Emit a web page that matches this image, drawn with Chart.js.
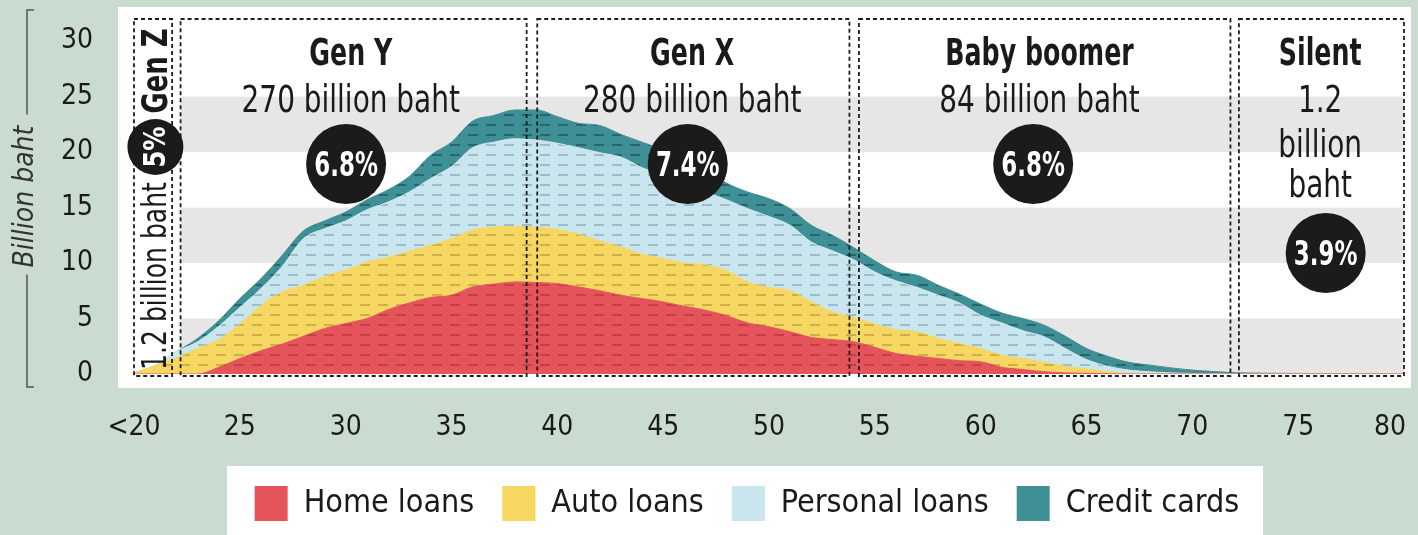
<!DOCTYPE html>
<html>
<head>
<meta charset="utf-8">
<script src="https://cdn.jsdelivr.net/npm/chart.js@4.4.1/dist/chart.umd.min.js"></script>
<style>
html,body{margin:0;padding:0;background:#c9dccf;}
#wrap{position:relative;width:1418px;height:535px;overflow:hidden;}
.panel{position:absolute;background:#ffffff;}
#plotPanel{left:118px;top:7px;width:1293px;height:381px;}
#legendPanel{left:227px;top:466px;width:1036px;height:80px;}
canvas{position:absolute;left:0;top:0;}
</style>
</head>
<body>
<div id="wrap">
  <div class="panel" id="plotPanel"></div>
  <div class="panel" id="legendPanel"></div>
  <canvas id="c" width="1418" height="535"></canvas>
</div>
<script>
// ---------- data ----------
const ages = [20,21,22,23,24,25,26,27,28,29,30,31,32,33,34,35,36,37,38,39,40,
              41,42,43,44,45,46,47,48,49,50,51,52,53,54,55,56,57,58,59,60,
              61,62,63,64,65,66,67,68,69,70,71,72,73,74,75,76,77,78,79,80];

const homeLoans = [0,0,0,0,0.6,1.4,2.1,2.7,3.4,4.1,4.55,
                   5.0,5.8,6.4,6.9,7.1,7.85,8.1,8.3,8.25,8.15,
                   7.85,7.5,7.1,6.8,6.5,6.1,5.75,5.25,4.6,4.26,
                   3.8,3.3,3.1,2.9,2.4,1.85,1.6,1.4,1.2,1.1,
                   0.6,0.4,0.2,0.1,0.05,0.02,0,0,0,0,
                   0,0,0,0,0,0,0,0,0,0];

const autoLoans = [0.1,0.75,1.45,2.3,2.5,3.1,4.1,4.7,4.6,4.7,4.8,
                   5.1,4.7,4.65,4.7,5.1,5.12,5.15,5.0,5.0,4.9,
                   4.75,4.5,4.35,4.0,3.9,3.9,4.1,4.05,3.7,3.54,
                   3.7,3.2,2.5,2.2,2.1,2.15,2.2,1.8,1.55,1.2,
                   1.1,1.0,0.85,0.6,0.4,0.18,0.05,0,0,0,
                   0,0,0,0,0,0,0,0,0,0];

const personalLoans = [0,0,0.55,0.6,1.2,1.5,1.5,2.3,4.2,4.3,4.45,
                       4.7,5.0,5.35,6.0,6.5,7.43,7.65,7.9,7.85,7.75,
                       7.8,7.95,8.1,7.8,7.45,7.1,6.55,6.4,6.6,6.4,
                       5.9,5.4,5.5,5.2,4.7,4.4,4.0,3.9,3.65,3.0,
                       2.9,2.5,2.3,1.6,0.85,0.5,0.3,0.2,0.1,0.05,
                       0.02,0,0,0,0,0,0,0,0,0];

const creditCards = [0,0,0,0.3,0.5,0.8,0.9,1.0,0.7,0.7,0.8,
                     0.9,1.1,1.4,2.1,2.2,2.4,2.4,2.6,2.7,2.4,
                     2.2,2.45,2.05,2.3,2.35,2.2,2.0,1.5,1.5,1.6,
                     1.5,1.5,1.4,1.1,1.0,0.8,1.1,0.9,0.8,1.0,
                     0.9,1.1,1.05,1.1,1.0,0.9,0.7,0.6,0.45,0.3,
                     0.2,0.12,0.08,0.06,0.05,0.04,0.03,0.02,0.01,0];

const seriesNames = ['Home loans','Auto loans','Personal loans','Credit cards'];
const xTickValues = [20,25,30,35,40,45,50,55,60,65,70,75,80];
const yTickValues = [0,5,10,15,20,25,30];
const bandRanges = [[0,5],[10,15],[20,25]];

const generations = ['Gen Z','Gen Y','Gen X','Baby boomer','Silent'];
const genStart = [20, 22.2, 39.05, 54.25, 72.2];
const genEnd = [21.8, 38.55, 53.8, 71.8, 80];
const genAmounts = ['1.2 billion baht','270 billion baht','280 billion baht','84 billion baht','1.2 billion baht'];
const genShares = ['5%','6.8%','7.4%','6.8%','3.9%'];

// ---------- styles ----------
const FONT = "'DejaVu Sans Condensed', 'DejaVu Sans', sans-serif";
const seriesColors = ['#e5545a','#f5d762','#c9e6ef','#3f9096'];
const dashColors = ['#c63f47','#cdb049','#9ebdcb','#25676c'];
const genLabelAge = [21.01, 30.24, 46.37, 62.78, 76.04];
const genCircleAge = [21.01, 30.02, 46.16, 62.48, 76.3];

function stripePattern(base, dash) {
  const c = document.createElement('canvas');
  c.width = 18; c.height = 10;
  const g = c.getContext('2d');
  g.fillStyle = base; g.fillRect(0, 0, 18, 10);
  g.fillStyle = dash; g.fillRect(0, 4, 10, 2);
  return g.createPattern(c, 'repeat');
}

const seriesValues = [homeLoans, autoLoans, personalLoans, creditCards];
const datasets = seriesNames.map((name, i) => ({
  label: name,
  data: ages.map((a, j) => ({x: a, y: seriesValues[i][j]})),
  backgroundColor: stripePattern(seriesColors[i], dashColors[i]),
  borderColor: seriesColors[i],
  borderWidth: 1,
  pointRadius: 0,
  pointHoverRadius: 0,
  fill: i === 0 ? 'origin' : '-1',
  cubicInterpolationMode: 'monotone'
}));

function circle(ctx, cx, cy, r) {
  ctx.beginPath();
  ctx.arc(cx, cy, r, 0, Math.PI * 2);
  ctx.fillStyle = '#1b1b1b';
  ctx.fill();
}
// narrow text: real text drawn with a horizontal squeeze
function narrowText(ctx, txt, x, y, font, color, sx, baseline) {
  ctx.save();
  ctx.translate(x, y);
  ctx.scale(sx, 1);
  ctx.font = font;
  ctx.fillStyle = color;
  ctx.textAlign = 'center';
  ctx.textBaseline = baseline || 'alphabetic';
  ctx.fillText(txt, 0, 0);
  ctx.restore();
}

const decor = {
  id: 'decor',
  afterLayout(chart) {
    if (chart.legend) { chart.legend.left += 45; chart.legend.right += 45; }
  },
  beforeDraw(chart) {
    const items = chart.scales.x.getLabelItems();
    const last = items[items.length - 1];
    if (last && !last._shifted) { last.options.translation[0] -= 14; last._shifted = true; }
  },
  beforeDatasetsDraw(chart) {
    const {ctx, chartArea, scales: {x, y}} = chart;
    ctx.save();
    ctx.fillStyle = '#e6e6e7';
    const x0 = x.getPixelForValue(genStart[1]);
    const x1 = chartArea.right;
    for (const [lo, hi] of bandRanges) {
      const t = y.getPixelForValue(hi), b = y.getPixelForValue(lo);
      ctx.fillRect(x0, t, x1 - x0, b - t);
    }
    ctx.restore();
  },
  afterDatasetsDraw(chart) {
    const {ctx, chartArea, scales: {x, y}} = chart;
    const top = chartArea.top;
    ctx.save();
    ctx.strokeStyle = '#1d1d1d';
    ctx.lineWidth = 1.8;
    ctx.setLineDash([4, 3]);
    const bottom = y.getPixelForValue(0) + 2;
    generations.forEach((g, i) => {
      const a = x.getPixelForValue(genStart[i]);
      const b = x.getPixelForValue(genEnd[i]);
      ctx.strokeRect(a, top, b - a, bottom - top);
    });
    ctx.setLineDash([]);
    const INK = '#1a1a1a';
    for (let i = 1; i <= 3; i++) {
      const lx = x.getPixelForValue(genLabelAge[i]);
      const cx = x.getPixelForValue(genCircleAge[i]);
      narrowText(ctx, generations[i], lx, top + 46, 'bold 37px ' + FONT, INK, 0.76);
      narrowText(ctx, genAmounts[i], lx, top + 93, '37px ' + FONT, INK, 0.84);
      circle(ctx, cx, top + 145, 40);
      narrowText(ctx, genShares[i], cx, top + 157, 'bold 34px ' + FONT, '#ffffff', 0.75);
    }
    {
      const i = 4;
      const lx = x.getPixelForValue(genLabelAge[i]);
      const cx = x.getPixelForValue(genCircleAge[i]);
      narrowText(ctx, generations[i], lx, top + 46, 'bold 37px ' + FONT, INK, 0.76);
      const parts = genAmounts[i].split(' ');
      narrowText(ctx, parts[0], lx, top + 93, '37px ' + FONT, INK, 0.84);
      narrowText(ctx, parts[1], lx, top + 138, '37px ' + FONT, INK, 0.84);
      narrowText(ctx, parts[2], lx, top + 178, '37px ' + FONT, INK, 0.84);
      circle(ctx, cx, top + 234, 40);
      narrowText(ctx, genShares[i], cx, top + 246, 'bold 34px ' + FONT, '#ffffff', 0.75);
    }
    {
      const i = 0;
      const lx = x.getPixelForValue(genLabelAge[i]);
      const drawRot = (txt, cy, font, color, sx) => {
        ctx.save();
        ctx.translate(lx, cy);
        ctx.rotate(-Math.PI / 2);
        ctx.scale(sx, 1);
        ctx.font = font;
        ctx.fillStyle = color;
        ctx.textAlign = 'center';
        ctx.textBaseline = 'middle';
        ctx.fillText(txt, 0, 2);
        ctx.restore();
      };
      drawRot(generations[i], top + 52, 'bold 36px ' + FONT, INK, 0.8);
      circle(ctx, lx, top + 128, 28);
      drawRot(genShares[i], top + 128, 'bold 30px ' + FONT, '#ffffff', 0.9);
      drawRot(genAmounts[i], top + 257, '34px ' + FONT, INK, 0.82);
    }
    ctx.restore();
  },
  afterDraw(chart) {
    const {ctx, chartArea} = chart;
    const t = chartArea.top - 9, b = chartArea.bottom + 13, xl = 27;
    const mid = (chartArea.top + chartArea.bottom) / 2;
    ctx.save();
    ctx.strokeStyle = '#555';
    ctx.lineWidth = 1.5;
    ctx.beginPath();
    ctx.moveTo(xl + 7, t); ctx.lineTo(xl, t); ctx.lineTo(xl, mid - 82);
    ctx.moveTo(xl, mid + 78); ctx.lineTo(xl, b); ctx.lineTo(xl + 7, b);
    ctx.stroke();
    ctx.restore();
  }
};

new Chart(document.getElementById('c'), {
  type: 'line',
  data: { datasets },
  plugins: [decor],
  options: {
    responsive: false,
    animation: false,
    devicePixelRatio: 1,
    layout: { padding: { top: 19, right: 14, bottom: 4, left: 0 } },
    plugins: {
      tooltip: { enabled: false },
      legend: {
        position: 'bottom',
        labels: {
          boxWidth: 33, boxHeight: 35, padding: 28, color: '#1a1a1a',
          font: { family: FONT, size: 32 },
          generateLabels(chart) {
            return chart.data.datasets.map((d, i) => ({
              text: d.label, fillStyle: seriesColors[i], strokeStyle: seriesColors[i],
              lineWidth: 0, hidden: false, datasetIndex: i, fontColor: '#1a1a1a'
            }));
          }
        }
      }
    },
    scales: {
      x: {
        type: 'linear', min: 20, max: 80,
        grid: { display: false }, border: { display: false },
        afterBuildTicks(s) { s.ticks = xTickValues.map(v => ({value: v})); },
        ticks: {
          autoSkip: false, maxRotation: 0, padding: 29, color: '#1a1a1a',
          font: { family: FONT, size: 28 },
          callback: v => (v === 20 ? '<20' : String(v))
        },
        afterFit(s) { s.height = 84; s.paddingLeft = 0; s.paddingRight = 0; }
      },
      y: {
        stacked: true, min: 0, max: 32,
        grid: { display: false }, border: { display: false },
        afterBuildTicks(s) { s.ticks = yTickValues.map(v => ({value: v})); },
        ticks: { padding: 33, color: '#1a1a1a', font: { family: FONT, size: 28 } },
        title: {
          display: true, text: 'Billion baht', color: '#333',
          font: { family: FONT, size: 28, style: 'italic' },
          padding: { top: 9, bottom: 0 }
        },
        afterFit(s) { s.width = 134; s.paddingTop = 0; s.paddingBottom = 0; }
      }
    }
  }
});
</script>
</body>
</html>
